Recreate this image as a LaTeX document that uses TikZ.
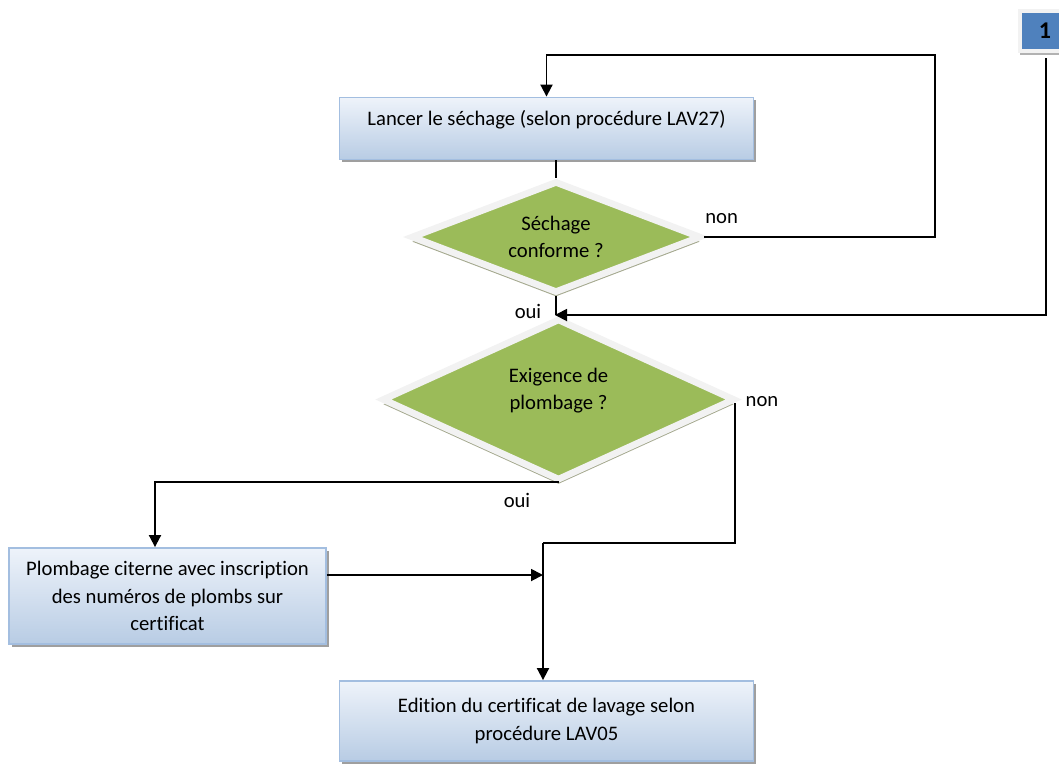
\documentclass[tikz,border=0pt]{standalone}
\usepackage{fontspec}
\setmainfont[Ligatures={NoCommon}]{Carlito}
\usetikzlibrary{shapes.geometric,arrows.meta,shadows}
\definecolor{boxtop}{HTML}{EEF3FA}
\definecolor{boxbot}{HTML}{B8CCE4}
\definecolor{boxline}{HTML}{A3BEE0}
\definecolor{dgreen}{HTML}{9BBB59}
\definecolor{dshadow}{HTML}{A4A88E}
\definecolor{onefill}{HTML}{4F81BD}
\tikzset{
  procbox/.style={rectangle, shading=axis, top color=boxtop, bottom color=boxbot,
    draw=boxline, line width=1.4pt, align=center,
    font=\fontsize{15.5}{20.5}\selectfont,
    drop shadow={shadow xshift=2.2pt, shadow yshift=-2.2pt, fill=gray!75, opacity=1}},
  decision/.style={diamond, shape aspect=2.6, fill=dgreen, draw=gray!10, line width=5pt, align=center,
    font=\fontsize{15.5}{20.5}\selectfont, inner sep=0pt,
    drop shadow={shadow xshift=0pt, shadow yshift=-3.5pt, fill=dshadow, opacity=1}},
  onebox/.style={rectangle, fill=onefill, draw=gray!10, line width=2.5pt,
    font=\fontsize{18}{20}\selectfont\bfseries,
    drop shadow={shadow xshift=0pt, shadow yshift=-3pt, fill=gray!60, opacity=1}},
  lbl/.style={font=\fontsize{15.5}{18}\selectfont, inner sep=0pt},
  conn/.style={line width=1.4pt, black},
  arr/.style={conn, -{Triangle[length=9pt,width=9pt]}}
}
\begin{document}
\begin{tikzpicture}[x=0.75pt,y=-0.75pt]
\useasboundingbox (0,0) rectangle (1059,765);

\node[procbox, minimum width=414*0.75pt, minimum height=62*0.75pt, text height=10pt, text depth=15pt] (b1) at (546.5,128.5) {Lancer le séchage (selon procédure LAV27)};
\node[decision, minimum width=290*0.75pt, minimum height=112*0.75pt] (d1) at (556,237) {Séchage\\conforme ?};
\node[decision, minimum width=353*0.75pt, minimum height=162*0.75pt, text height=18pt, text depth=3.25pt] (d2) at (558.5,399.5) {Exigence de\\plombage ?};
\node[procbox, minimum width=317*0.75pt, minimum height=96*0.75pt] (b3) at (167.5,596) {Plombage citerne avec inscription\\des numéros de plombs sur\\certificat};
\node[procbox, minimum width=414*0.75pt, minimum height=80*0.75pt] (b4) at (546.5,721) {Edition du certificat de lavage selon\\procédure LAV05};
\node[onebox, minimum width=50*0.75pt, minimum height=40*0.75pt] (one) at (1045,31) {1};

\node[lbl, anchor=west] (non1) at (705,219) {non};
\node[lbl] (oui1) at (528,311) {oui};
\node[lbl] (non2) at (762,402) {non};
\node[lbl] (oui2) at (517,500) {oui};

\coordinate (c1) at (935,55);
\coordinate (j1) at (555,315);
\coordinate (c2) at (543,543);
\coordinate (j2) at (543,575);
\coordinate (k1) at (1046,58);
\coordinate (c3) at (155,482);
\coordinate (e2) at (735,403);

\draw[conn] (d1.north |- b1.south) -- (d1.north);
\draw[arr] (d1.east) -| (c1) -| (b1.north);
\draw[conn] (d1.south) -- (d1.south |- d2.north) -- ++(0,-6);
\draw[arr] (k1) |- (j1);
\draw[conn] (e2) |- (c2);
\draw[arr] (c2) -- (c2 |- b4.north);
\draw[arr] (d2.south |- c3) -- (c3) -- (c3 |- b3.north);
\draw[arr] (b3.east |- j2) -- (j2);
\end{tikzpicture}
\end{document}
